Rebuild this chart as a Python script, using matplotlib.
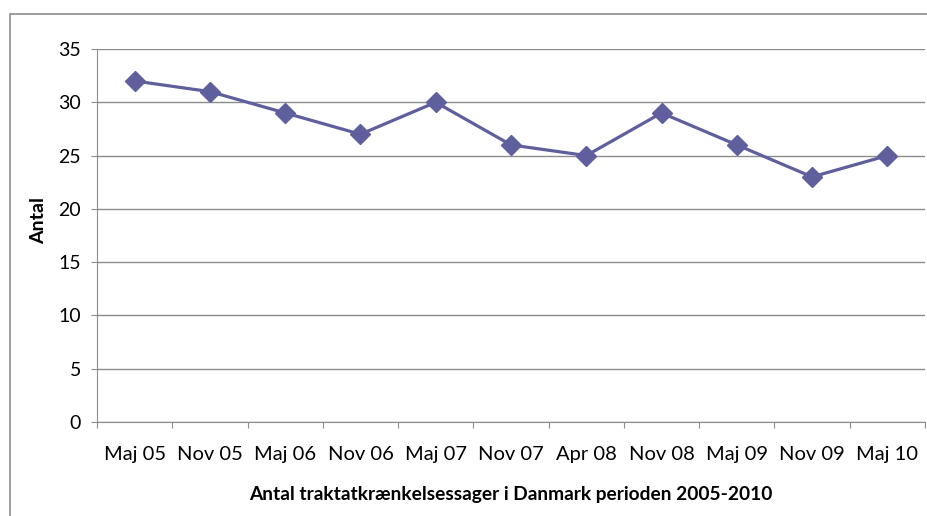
import numpy as np
import matplotlib.pyplot as plt
from matplotlib.patches import Rectangle

labels = ['Maj 05', 'Nov 05', 'Maj 06', 'Nov 06', 'Maj 07', 'Nov 07',
          'Apr 08', 'Nov 08', 'Maj 09', 'Nov 09', 'Maj 10']
antal = [32, 31, 29, 27, 30, 26, 25, 29, 26, 23, 25]
yticks = [0, 5, 10, 15, 20, 25, 30, 35]

plt.rcParams['font.family'] = ['Lato', 'DejaVu Sans']

fig = plt.figure(figsize=(9.27, 5.16), dpi=100)
# ramme rundt om diagrammet
fig.patches.append(Rectangle((9.5 / 927, -0.1), 1.0, 1 - 14 / 516 + 0.1,
                             transform=fig.transFigure, fill=False,
                             edgecolor='#8c8c8c', linewidth=1.2))

ax = fig.add_axes([97 / 927, 1 - 422 / 516, 828 / 927, (422 - 49) / 516])
x = np.arange(len(labels))
ax.plot(x, antal, color='#5f5f9e', linewidth=2.3, marker='D', markersize=10,
        markeredgecolor='#5f5f9e', markerfacecolor='#5f5f9e', zorder=3)

ax.set_xlim(-0.5, len(labels) - 0.5)
ax.set_ylim(0, 35)
ax.set_yticks(yticks)
ax.set_yticklabels([str(v) for v in yticks], fontsize=14)
ax.yaxis.grid(True, color='#8c8c8c', linewidth=1)
ax.set_axisbelow(True)

# kategorier midt i felterne, tick-streger på grænserne
ax.set_xticks(np.arange(-0.5, len(labels)), minor=False)
ax.set_xticklabels([''] * (len(labels) + 1))
ax.set_xticks(x, minor=True)
ax.set_xticklabels(labels, minor=True, fontsize=14.5)
ax.tick_params(axis='x', which='minor', length=0, pad=17)
ax.tick_params(axis='x', which='major', length=4.5, color='#8c8c8c')
ax.tick_params(axis='y', length=4.5, color='#8c8c8c', pad=7)

ax.spines['right'].set_color('none')
ax.spines['top'].set_color('none')
ax.spines['left'].set_color('#8c8c8c')
ax.spines['bottom'].set_color('#8c8c8c')

fig.text(39 / 927, 1 - 220 / 516, 'Antal', rotation=90, ha='center',
         va='center', fontsize=14, fontweight='bold')
ax.set_xlabel('Antal traktatkrænkelsessager i Danmark perioden 2005-2010',
              fontsize=13.8, fontweight='bold', labelpad=17)

fig.savefig('out.png', dpi=100)
